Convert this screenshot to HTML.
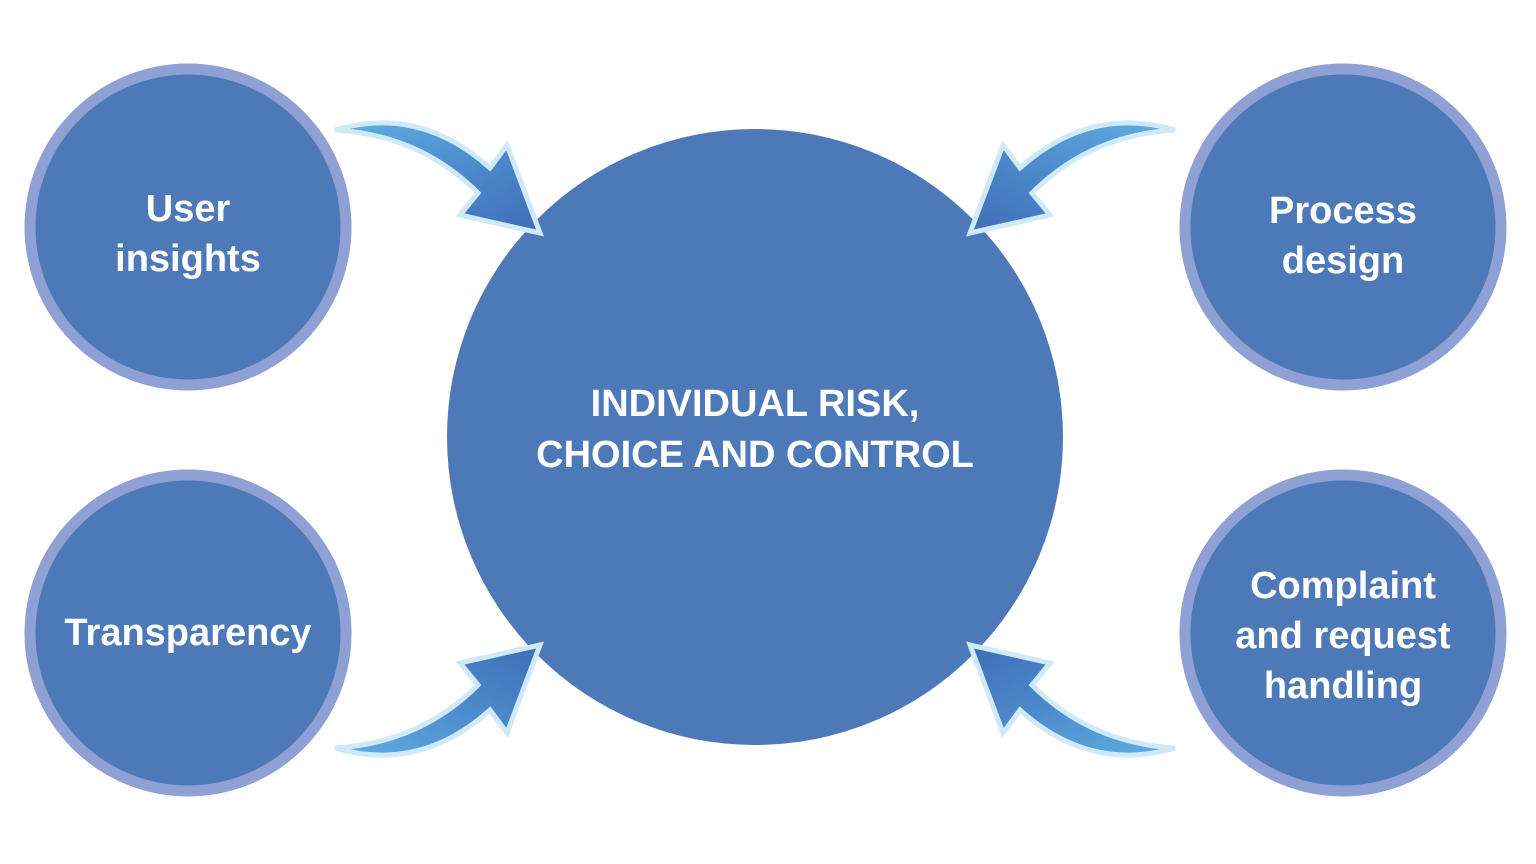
<!DOCTYPE html>
<html><head><style>
html,body{margin:0;padding:0;background:#fff;}
svg{display:block}
text{font-family:"Liberation Sans",sans-serif;font-weight:bold;fill:#fff;text-anchor:middle}
</style></head><body>
<svg width="1536" height="864" viewBox="0 0 1536 864" xmlns="http://www.w3.org/2000/svg">
<defs>
<linearGradient id="g" x1="0" y1="0" x2="1" y2="1">
<stop offset="0" stop-color="#5fb0e3"/><stop offset="0.6" stop-color="#4a86c8"/><stop offset="1" stop-color="#3f6db6"/>
</linearGradient>
<g id="arr">
<path d="M335,130 Q420,105 490,168 L507,145 L540,233 L460,215 L478,193 Q420,135 335,130 Z" fill="url(#g)" stroke="#cfeaf6" stroke-width="5" stroke-linejoin="miter"/>
</g>
</defs>
<g fill="#4e79b9" stroke="#8fa0d4" stroke-width="11">
<circle cx="188" cy="227" r="158"/>
<circle cx="188" cy="633" r="158"/>
<circle cx="1343" cy="227" r="158"/>
<circle cx="1343" cy="633" r="158"/>
</g>
<circle cx="755" cy="437" r="308" fill="#4e79b9"/>
<use href="#arr"/>
<use href="#arr" transform="translate(1510,0) scale(-1,1)"/>
<use href="#arr" transform="translate(0,878) scale(1,-1)"/>
<use href="#arr" transform="translate(1510,878) scale(-1,-1)"/>
<g font-size="38">
<text x="188" y="221">User</text>
<text x="188" y="271">insights</text>
<text x="188" y="645">Transparency</text>
<text x="1343" y="223">Process</text>
<text x="1343" y="273">design</text>
<text x="1343" y="598">Complaint</text>
<text x="1343" y="648">and request</text>
<text x="1343" y="698">handling</text>
<text x="755" y="416">INDIVIDUAL RISK,</text>
<text x="755" y="467">CHOICE AND CONTROL</text>
</g>
</svg>
</body></html>
